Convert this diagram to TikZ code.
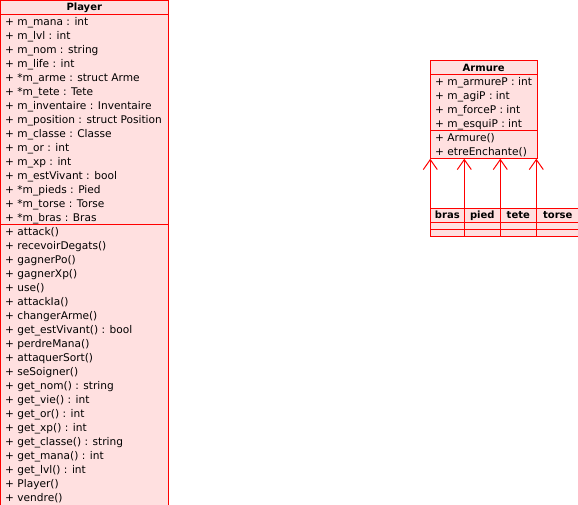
\documentclass[tikz,border=0pt]{standalone}
\usepackage{fontspec}
\setmainfont{DejaVu Sans}
\usetikzlibrary{arrows.meta}
\definecolor{umlfill}{RGB}{255,224,224}
\definecolor{umlline}{RGB}{255,0,0}
\begin{document}
\begin{tikzpicture}[x=1pt,y=-1pt,
  box/.style={draw=umlline, fill=umlfill, line width=1pt, anchor=north west, inner sep=0pt, outer sep=0pt},
  row/.style={anchor=base west, inner sep=0pt, font=\fontsize{10.6}{14}\selectfont},
  ttl/.style={anchor=base, inner sep=0pt, font=\bfseries\fontsize{10}{14}\selectfont},
  gen/.style={draw=umlline, line width=1pt, -{Straight Barb[length=10pt,width=14pt]}}]
\useasboundingbox (0,0) rectangle (578,504);
% ---------------- Player
\node[box, minimum width=167.5pt, minimum height=13.5pt] (player-t) at (0.5,0.5) {};
\node[box, minimum width=167.5pt, minimum height=210pt] (player-a) at (0.5,14) {};
\node[box, minimum width=167.5pt, minimum height=282pt] (player-m) at (0.5,224) {};
\node[ttl] (player-name) at (84.25,10.6) {Player};
\foreach \t [count=\i from 0] in {%
  + m\_mana : int, + m\_lvl : int, + m\_nom : string, + m\_life : int,
  + *m\_arme : struct Arme, + *m\_tete : Tete, + m\_inventaire : Inventaire,
  + m\_position : struct Position, + m\_classe : Classe, + m\_or : int,
  + m\_xp : int, + m\_estVivant : bool, + *m\_pieds : Pied,
  + *m\_torse : Torse, + *m\_bras : Bras}
  \node[row] (pa\i) at (5,{25+14*\i}) {\t};
\foreach \t [count=\i from 0] in {%
  + attack(), + recevoirDegats(), + gagnerPo(), + gagnerXp(), + use(),
  + attackIa(), + changerArme(), + get\_estVivant() : bool, + perdreMana(),
  + attaquerSort(), + seSoigner(), + get\_nom() : string, + get\_vie() : int,
  + get\_or() : int, + get\_xp() : int, + get\_classe() : string,
  + get\_mana() : int, + get\_lvl() : int, + Player(), + vendre()}
  \node[row] (pm\i) at (5,{235+14*\i}) {\t};
% ---------------- Armure
\node[box, minimum width=106.7pt, minimum height=14pt] (armure-t) at (430.3,60.7) {};
\node[box, minimum width=106.7pt, minimum height=56pt] (armure-a) at (430.3,74.7) {};
\node[box, minimum width=106.7pt, minimum height=28pt] (armure-m) at (430.3,130.7) {};
\node[ttl] (armure-name) at (483.65,71.3) {Armure};
\foreach \t [count=\i from 0] in {%
  + m\_armureP : int, + m\_agiP : int, + m\_forceP : int, + m\_esquiP : int}
  \node[row] (aa\i) at (435,{85.7+14*\i}) {\t};
\foreach \t [count=\i from 0] in {+ Armure(), + etreEnchante()}
  \node[row] (am\i) at (435,{141+14*\i}) {\t};
% ---------------- parts
\foreach \n/\x/\w in {bras/430.3/34, pied/464.3/36, tete/500.3/36, torse/536.3/43}{
  \node[box, minimum width=\w pt, minimum height=14pt] (\n-t) at (\x,208) {};
  \node[box, minimum width=\w pt, minimum height=7pt] (\n-a) at (\x,222) {};
  \node[box, minimum width=\w pt, minimum height=7pt] (\n-m) at (\x,229) {};
  \node[ttl] (\n-name) at ({\x+\w/2},218.3) {\n};
  \draw[gen] (\n-t.north west) -- (\n-t.north west |- armure-m.south);
}
\end{tikzpicture}
\end{document}
